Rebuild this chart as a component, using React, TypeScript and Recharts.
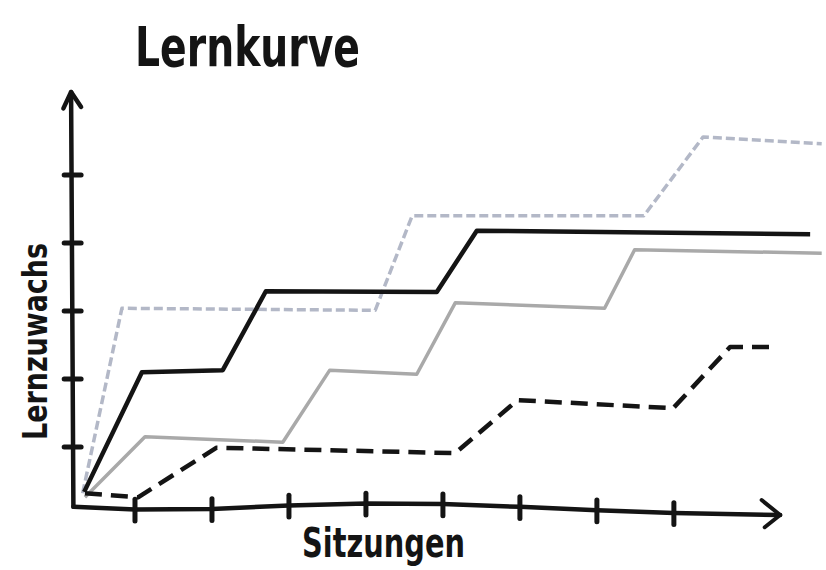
import React from "react";
import { LineChart, Line, XAxis, YAxis, ReferenceLine } from "recharts";

// Series (x = Sitzungen, y = Lernzuwachs)
const lightDashedX = [0.32, 0.83, 4.12, 4.6, 7.61, 8.38, 9.92];
const lightDashedY = [0.32, 3.04, 3.01, 4.4, 4.4, 5.56, 5.46];

const blackSolidX = [0.34, 1.09, 2.14, 2.7, 4.92, 5.44, 9.77];
const blackSolidY = [0.34, 2.1, 2.13, 3.29, 3.28, 4.18, 4.13];

const greySolidX = [0.35, 1.13, 2.92, 3.53, 4.66, 5.16, 7.1, 7.49, 9.92];
const greySolidY = [0.26, 1.15, 1.07, 2.13, 2.07, 3.12, 3.04, 3.9, 3.85];

const blackDashedX = [0.35, 1.04, 2.06, 5.16, 5.97, 7.99, 8.73, 9.31];
const blackDashedY = [0.32, 0.26, 0.99, 0.91, 1.69, 1.57, 2.47, 2.47];

// Axes (hand-drawn)
const xAxisPathX = [0.2, 1, 2, 3, 4, 5, 6, 7, 8, 9.38];
const xAxisPathY = [0.12, 0.08, 0.09, 0.14, 0.17, 0.16, 0.12, 0.07, 0.03, 0.0];
const xTicks = [1, 2, 3, 4, 5, 6, 7, 8];
const yTicks = [1, 2, 3, 4, 5];

const title = "Lernkurve";
const xLabel = "Sitzungen";
const yLabel = "Lernzuwachs";

const zip = (xs: number[], ys: number[]) => xs.map((x, i) => ({ x, y: ys[i] }));

const lightDashed = zip(lightDashedX, lightDashedY);
const blackSolid = zip(blackSolidX, blackSolidY);
const greySolid = zip(greySolidX, greySolidY);
const blackDashed = zip(blackDashedX, blackDashedY);
const xAxisPath = zip(xAxisPathX, xAxisPathY);

const axisAtTick = (v: number) => {
  const i = xAxisPathX.indexOf(v);
  return i >= 0 ? xAxisPathY[i] : 0.1;
};

const INK = "#141414";
const FONT = "'Liberation Sans Narrow', 'DejaVu Sans Condensed', 'Open Sans', sans-serif";

export default function App() {
  return (
    <div style={{ position: "absolute", left: 0, top: 0, width: 826, height: 570, background: "#fff" }}>
      <LineChart width={826} height={570} margin={{ top: 73, right: 2, bottom: 21, left: 58 }}>
        <XAxis dataKey="x" type="number" domain={[0, 9.95]} hide allowDataOverflow />
        <YAxis type="number" domain={[-0.5, 6.5]} hide allowDataOverflow />

        {/* y axis */}
        <ReferenceLine segment={[{ x: 0.2, y: 0.12 }, { x: 0.17, y: 6.2 }]} stroke={INK} strokeWidth={4.5} strokeLinecap="round" />
        <ReferenceLine segment={[{ x: 0.07, y: 5.98 }, { x: 0.17, y: 6.22 }]} stroke={INK} strokeWidth={4.5} strokeLinecap="round" />
        <ReferenceLine segment={[{ x: 0.17, y: 6.22 }, { x: 0.3, y: 6.0 }]} stroke={INK} strokeWidth={4.5} strokeLinecap="round" />
        {yTicks.map((v) => (
          <ReferenceLine key={"yt" + v} segment={[{ x: 0.08, y: v }, { x: 0.3, y: v }]} stroke={INK} strokeWidth={5} strokeLinecap="round" />
        ))}

        {/* x axis */}
        <Line data={xAxisPath} dataKey="y" type="linear" stroke={INK} strokeWidth={4.5} dot={false} isAnimationActive={false} strokeLinecap="round" strokeLinejoin="round" />
        <ReferenceLine segment={[{ x: 9.14, y: 0.22 }, { x: 9.38, y: 0.0 }]} stroke={INK} strokeWidth={4} strokeLinecap="round" />
        <ReferenceLine segment={[{ x: 9.38, y: 0.0 }, { x: 9.18, y: -0.18 }]} stroke={INK} strokeWidth={4} strokeLinecap="round" />
        {xTicks.map((v) => (
          <ReferenceLine key={"xt" + v} segment={[{ x: v, y: axisAtTick(v) + 0.15 }, { x: v, y: axisAtTick(v) - 0.17 }]} stroke={INK} strokeWidth={5} strokeLinecap="round" />
        ))}

        {/* series */}
        <Line data={lightDashed} dataKey="y" type="linear" stroke="#b3b8c7" strokeWidth={3.5} strokeDasharray="9 4" dot={false} isAnimationActive={false} strokeLinejoin="round" />
        <Line data={greySolid} dataKey="y" type="linear" stroke="#a9a9a9" strokeWidth={3.5} dot={false} isAnimationActive={false} strokeLinejoin="round" />
        <Line data={blackSolid} dataKey="y" type="linear" stroke={INK} strokeWidth={4.5} dot={false} isAnimationActive={false} strokeLinejoin="round" />
        <Line data={blackDashed} dataKey="y" type="linear" stroke={INK} strokeWidth={4.5} strokeDasharray="17 9" dot={false} isAnimationActive={false} strokeLinejoin="round" />
      </LineChart>

      <svg width={826} height={570} style={{ position: "absolute", left: 0, top: 0, pointerEvents: "none" }}>
        <text x={135} y={66} fontFamily={FONT} fontWeight={700} fontSize={56} fill={INK} textLength={225} lengthAdjust="spacingAndGlyphs">
          {title}
        </text>
        <text x={302} y={557} fontFamily={FONT} fontWeight={700} fontSize={40} fill={INK} textLength={163} lengthAdjust="spacingAndGlyphs">
          {xLabel}
        </text>
        <text x={0} y={0} transform="translate(47,440) rotate(-90)" fontFamily={FONT} fontWeight={700} fontSize={34} fill={INK} textLength={197} lengthAdjust="spacingAndGlyphs">
          {yLabel}
        </text>
      </svg>
    </div>
  );
}
